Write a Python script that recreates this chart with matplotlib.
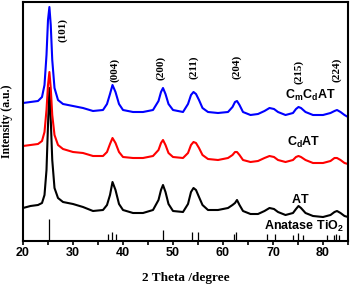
import matplotlib
matplotlib.use('Agg')
import matplotlib.pyplot as plt
import numpy as np

plt.rcParams['mathtext.fontset'] = 'custom'
plt.rcParams['mathtext.rm'] = 'Liberation Sans:bold'
plt.rcParams['mathtext.bf'] = 'Liberation Sans:bold'

# 2 theta grid (degree)
two_theta = [20, 21.5, 23, 23.8, 24.3, 24.7, 25.0, 25.28, 25.55, 25.85,
             26.3, 27, 28, 30, 32, 34, 36, 36.8, 37.4, 37.9,
             38.5, 39.2, 40, 42, 44, 46, 47.1, 47.6, 48.0, 48.5,
             49.1, 50, 52, 53.0, 53.6, 54.1, 54.6, 55.2, 55.9, 57,
             59, 61, 61.9, 62.4, 62.8, 63.3, 64, 65.5, 67, 68.3,
             69.3, 70.2, 71, 72.5, 74, 74.6, 75.1, 75.6, 76.5, 78,
             80, 81.5, 82.3, 82.8, 83.5, 84.3, 85]

# intensities (a.u., already stacked)
int_at = [33, 35, 36, 38, 46, 71, 116, 153, 121, 81,
          53, 43, 39, 37, 34, 30, 31, 36, 46, 59,
          51, 37, 31, 28, 28, 31, 41, 51, 56, 49,
          37, 30, 29, 37, 49, 53, 51, 44, 36, 31,
          31, 33, 36, 38, 41, 36, 30, 27, 27, 30,
          33, 32, 29, 26, 28, 32, 35, 33, 28, 25,
          24, 26, 29, 30, 28, 25, 24]
int_cdat = [95, 96, 97, 100, 109, 131, 156, 169, 153, 126,
            106, 96, 92, 89, 88, 85, 85, 89, 97, 103,
            98, 89, 84, 83, 83, 85, 91, 98, 101, 96,
            88, 84, 83, 88, 96, 99, 98, 93, 86, 82,
            81, 83, 86, 89, 89, 86, 81, 79, 80, 83,
            85, 84, 81, 79, 81, 84, 85, 84, 81, 78,
            78, 80, 83, 83, 81, 78, 77]
int_cmcdat = [138, 139, 140, 144, 156, 186, 221, 234, 216, 181,
              153, 141, 137, 135, 133, 130, 131, 137, 147, 156,
              149, 137, 131, 129, 129, 131, 140, 149, 153, 147,
              137, 131, 129, 137, 146, 149, 147, 141, 133, 129,
              128, 129, 134, 139, 140, 136, 129, 126, 127, 130,
              133, 132, 129, 126, 128, 132, 134, 133, 129, 126,
              126, 128, 130, 131, 129, 126, 124]

# anatase TiO2 reference pattern
ref_pos = [25.28, 36.95, 37.80, 38.57, 48.05, 53.89, 55.06, 62.12, 62.69,
           68.76, 70.31, 74.03, 75.03, 76.02, 80.73, 82.14, 82.66, 83.15]
ref_height = [22, 7, 9, 7, 11, 9, 9, 7, 9, 7, 7, 6, 8, 6, 6, 6, 7, 6]

hkl_labels = ['(101)', '(004)', '(200)', '(211)', '(204)', '(215)', '(224)']
hkl_x = [28.0, 38.4, 47.6, 54.2, 62.8, 75.2, 82.8]
hkl_y = [211, 171, 173, 174, 174, 169, 171]

fig = plt.figure(figsize=(3.51, 2.88), dpi=100)
ax = fig.add_axes([23/351, 1-241/288, 325/351, 239/288])

ax.plot(two_theta, int_at, color='black', lw=1.5)
ax.plot(two_theta, int_cdat, color='#ff0000', lw=1.5)
ax.plot(two_theta, int_cmcdat, color='#0000ff', lw=1.5)
ax.vlines(ref_pos, 0, ref_height, color='black', lw=0.9)

for lab, x, y in zip(hkl_labels, hkl_x, hkl_y):
    ax.text(x, y, lab, rotation=90, ha='center', va='center',
            family='Liberation Serif', fontweight='bold', fontsize=8)

ax.text(77.4, 142, r'$\mathbf{C_mC_dAT}$', ha='center', va='baseline', fontsize=9)
ax.text(76.2, 95, r'$\mathbf{C_dAT}$', ha='center', va='baseline', fontsize=9)
ax.text(75.5, 38, r'$\mathbf{AT}$', ha='center', va='baseline', fontsize=9)
ax.text(76.3, 11, r'$\mathbf{Anatase\ TiO_2}$', ha='center', va='baseline', fontsize=9)

ax.set_xlim(20, 85)
ax.set_ylim(0, 239)
ax.set_xticks([20, 30, 40, 50, 60, 70, 80])
ax.set_xticks([25, 35, 45, 55, 65, 75, 85], minor=True)
ax.set_yticks([])
ax.tick_params(axis='x', which='both', direction='out', length=3, width=1.2, pad=1)
for t in ax.get_xticklabels():
    t.set_family('Liberation Sans')
    t.set_fontweight('bold')
    t.set_fontsize(9)
for s in ax.spines.values():
    s.set_linewidth(1.5)

ax.set_xlabel('2 Theta /degree', family='Liberation Serif', fontweight='bold', fontsize=9.5)
ax.xaxis.set_label_coords(0.5, -0.13)
ax.set_ylabel('Intensity (a.u.)', family='Liberation Serif', fontweight='bold', fontsize=8.5)
ax.yaxis.set_label_coords(-0.031, 0.5)

fig.savefig('out.png', dpi=100)
